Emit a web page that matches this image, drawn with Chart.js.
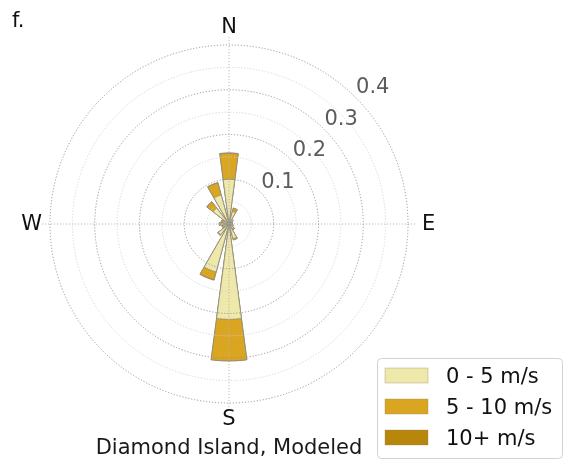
<!DOCTYPE html>
<html>
<head>
<meta charset="utf-8">
<title>Diamond Island, Modeled</title>
<script src="https://cdn.jsdelivr.net/npm/chart.js@4/dist/chart.umd.min.js"></script>
<style>
  html, body { margin: 0; padding: 0; background: #ffffff; }
  #wrap { width: 566px; height: 462px; position: relative; }
</style>
</head>
<body>
<div id="wrap"><canvas id="rose" width="566" height="462"></canvas></div>
<script>
// Sixteen compass sectors, clockwise from north
const directions = ['N', 'NNE', 'NE', 'ENE', 'E', 'ESE', 'SE', 'SSE',
                    'S', 'SSW', 'SW', 'WSW', 'W', 'WNW', 'NW', 'NNW'];
// Speed classes shown in the legend
const speedBins = ['0 - 5 m/s', '5 - 10 m/s', '10+ m/s'];
// Frequency of each speed class per sector (fraction of all hours)
const light    = [0.100, 0.029, 0.012, 0.008, 0.008, 0.010, 0.014, 0.034,
                  0.213, 0.111, 0.030, 0.014, 0.018, 0.014, 0.045, 0.067];
const moderate = [0.058, 0.008, 0.000, 0.000, 0.000, 0.000, 0.002, 0.003,
                  0.093, 0.018, 0.002, 0.002, 0.004, 0.004, 0.017, 0.028];
const strong   = [0.001, 0.000, 0.000, 0.000, 0.000, 0.000, 0.000, 0.000,
                  0.000, 0.001, 0.000, 0.000, 0.000, 0.000, 0.001, 0.001];
// Radial tick labels and compass labels
const radialTicks = [0.1, 0.2, 0.3, 0.4];
const compassLabels = ['N', 'E', 'S', 'W'];

const binColors = ['#EEE8AA', '#DAA520', '#B8860B'];
const WEDGE = 15;                 // degrees covered by each sector bar
const SECTOR = 360 / directions.length;
const FONT = '21px "DejaVu Sans", sans-serif';

// Stack the classes: each ring reaches the running total of its class
const bins = [light, moderate, strong];
const cumulative = bins.map((_, k) =>
  directions.map((d, i) => bins.slice(0, k + 1).reduce((s, b) => s + b[i], 0)));

// Every sector bar is followed by an empty slot that leaves a gap
const withGaps = vals => vals.flatMap(v => [v, 0]);
const slotLabels = directions.flatMap(d => [d, '']);

const datasets = cumulative.map((vals, k) => ({
  label: speedBins[k],
  data: withGaps(vals),
  backgroundColor: binColors[k],
  borderColor: '#8f8c7c',
  borderWidth: ctx => (ctx.dataIndex % 2 ? 0 : 0.8),
  angle: ctx => (ctx.dataIndex % 2 ? SECTOR - WEDGE : WEDGE)
}));

const roseDecor = {
  id: 'roseDecor',
  afterDatasetsDraw(chart) {
    const s = chart.scales.r;
    const ctx = chart.ctx;
    const reach = s.getDistanceFromCenterForValue(s.max) + 8;
    ctx.save();
    ctx.strokeStyle = '#b4b4b4';
    ctx.lineWidth = 0.9;
    ctx.setLineDash([1.2, 1.8]);
    ctx.beginPath();
    ctx.moveTo(s.xCenter, s.yCenter - reach);
    ctx.lineTo(s.xCenter, s.yCenter + reach);
    ctx.moveTo(s.xCenter - reach, s.yCenter);
    ctx.lineTo(s.xCenter + reach, s.yCenter);
    ctx.stroke();
    ctx.restore();
  },
  afterDraw(chart) {
    const s = chart.scales.r;
    const ctx = chart.ctx;
    const cx = s.xCenter, cy = s.yCenter;
    ctx.save();
    ctx.font = FONT;

    // radial tick labels along the 45 degree bearing
    ctx.fillStyle = '#5c5c5c';
    ctx.textAlign = 'left';
    ctx.textBaseline = 'alphabetic';
    radialTicks.forEach(v => {
      const r = s.getDistanceFromCenterForValue(v);
      const a = Math.PI / 4;
      ctx.fillText(v.toFixed(1), cx + r * Math.sin(a) + 0.5, cy - r * Math.cos(a) - 4.5);
    });

    // compass points
    ctx.fillStyle = '#111111';
    const R = s.drawingArea;
    const spots = {
      N: [cx, cy - R - 12, 'center'],
      E: [cx + R + 14, cy + 6, 'left'],
      S: [cx, cy + R + 22, 'center'],
      W: [cx - R - 8, cy + 6, 'right']
    };
    compassLabels.forEach(t => {
      const [x, y, al] = spots[t];
      ctx.textAlign = al;
      ctx.fillText(t, x, y);
    });

    // panel letter and caption
    ctx.textAlign = 'left';
    ctx.fillText('f.', 12, 27);
    ctx.fillStyle = '#1a1a1a';
    ctx.textAlign = 'center';
    ctx.fillText('Diamond Island, Modeled', cx, 454);

    // legend
    const bx = 377, by = 358, bw = 185, bh = 100;
    ctx.fillStyle = 'rgba(255,255,255,0.9)';
    ctx.strokeStyle = '#d2d2d2';
    ctx.lineWidth = 1;
    ctx.beginPath();
    ctx.roundRect(bx + 0.5, by + 0.5, bw, bh, 4);
    ctx.fill();
    ctx.stroke();
    chart.data.datasets.forEach((ds, k) => {
      const yc = 375.5 + k * 31;
      ctx.fillStyle = ds.backgroundColor;
      ctx.fillRect(385, yc - 7.5, 43, 15);
      ctx.strokeStyle = 'rgba(150,140,100,0.45)';
      ctx.lineWidth = 0.8;
      ctx.strokeRect(385, yc - 7.5, 43, 15);
      ctx.fillStyle = '#111111';
      ctx.textAlign = 'left';
      ctx.fillText(ds.label, 446, yc + 7.5);
    });
    ctx.restore();
  }
};

new Chart(document.getElementById('rose'), {
  type: 'polarArea',
  data: { labels: slotLabels, datasets },
  options: {
    responsive: false,
    animation: false,
    layout: { padding: { left: 50, right: 158, top: 45, bottom: 59 } },
    plugins: {
      legend: { display: false },
      title: { display: false },
      tooltip: { enabled: false }
    },
    scales: {
      r: {
        min: 0,
        max: 0.4,
        startAngle: -WEDGE / 2,
        ticks: { display: false, stepSize: 0.05 },
        grid: {
          z: 1,
          circular: true,
          lineWidth: 0.9,
          color: ctx => (Math.round(ctx.tick.value * 100) % 10 === 0 ? '#8e8e8e' : '#d0d0d0')
        },
        border: { dash: [1.2, 1.8] },
        angleLines: { display: false },
        pointLabels: { display: false }
      }
    }
  },
  plugins: [roseDecor]
});
</script>
</body>
</html>
